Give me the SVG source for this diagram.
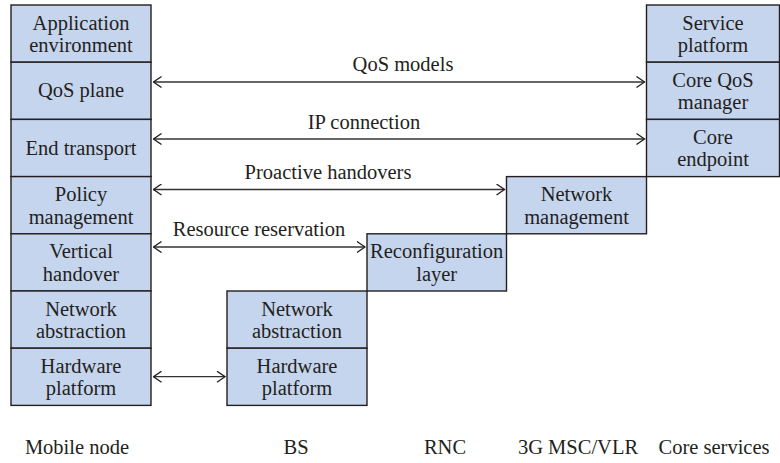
<svg xmlns="http://www.w3.org/2000/svg" width="780" height="463" viewBox="0 0 780 463">
  <defs>
    <!-- open chevron head used on both ends of every connector -->
    <marker id="head" viewBox="0 0 10 12" refX="9" refY="6" markerWidth="10" markerHeight="12" markerUnits="userSpaceOnUse" orient="auto-start-reverse">
      <path d="M1,0.5 L9,6 L1,11.5" fill="none" stroke="#231f20" stroke-width="1.3"/>
    </marker>
  </defs>
  <style>
    .box { fill: #c6d5ee; stroke: #231f20; stroke-width: 1.4; }
    text { font-family: 'Liberation Serif', 'Times New Roman', serif; font-size: 20.5px; fill: #231f20; text-anchor: middle; }
    .conn { stroke: #333333; stroke-width: 1.3; fill: none; marker-start: url(#head); marker-end: url(#head); }
  </style>
  <rect width="780" height="463" fill="#ffffff"/>

  <!-- Mobile node stack -->
  <g id="mn-app"><rect class="box" x="11" y="5" width="140" height="57.2"/><text x="81" y="29.5">Application</text><text x="81" y="52">environment</text></g>
  <g id="mn-qos"><rect class="box" x="11" y="62.2" width="140" height="57.2"/><text x="81" y="97">QoS plane</text></g>
  <g id="mn-transport"><rect class="box" x="11" y="119.4" width="140" height="57.2"/><text x="81" y="154.5">End transport</text></g>
  <g id="mn-policy"><rect class="box" x="11" y="176.6" width="140" height="57.2"/><text x="81" y="201.1">Policy</text><text x="81" y="223.6">management</text></g>
  <g id="mn-vertical"><rect class="box" x="11" y="233.8" width="140" height="57.2"/><text x="81" y="258.3">Vertical</text><text x="81" y="280.8">handover</text></g>
  <g id="mn-netabs"><rect class="box" x="11" y="291" width="140" height="57.2"/><text x="81" y="315.5">Network</text><text x="81" y="338">abstraction</text></g>
  <g id="mn-hw"><rect class="box" x="11" y="348.2" width="140" height="57.2"/><text x="81" y="372.7">Hardware</text><text x="81" y="395.2">platform</text></g>

  <!-- Base station stack -->
  <g id="bs-netabs"><rect class="box" x="227" y="291" width="140" height="57.2"/><text x="297" y="315.5">Network</text><text x="297" y="338">abstraction</text></g>
  <g id="bs-hw"><rect class="box" x="227" y="348.2" width="140" height="57.2"/><text x="297" y="372.7">Hardware</text><text x="297" y="395.2">platform</text></g>

  <!-- RNC -->
  <g id="rnc-reconf"><rect class="box" x="367" y="233.8" width="139.5" height="57.2"/><text x="436.7" y="258.3">Reconfiguration</text><text x="436.7" y="280.8">layer</text></g>

  <!-- 3G MSC/VLR -->
  <g id="msc-netmgmt"><rect class="box" x="506.5" y="176.6" width="140" height="57.2"/><text x="576.5" y="201.1">Network</text><text x="576.5" y="223.6">management</text></g>

  <!-- Core services stack -->
  <g id="core-service"><rect class="box" x="646.5" y="5" width="133" height="57.2"/><text x="713" y="29.5">Service</text><text x="713" y="52">platform</text></g>
  <g id="core-qos"><rect class="box" x="646.5" y="62.2" width="133" height="57.2"/><text x="713" y="86.7">Core QoS</text><text x="713" y="109.2">manager</text></g>
  <g id="core-endpoint"><rect class="box" x="646.5" y="119.4" width="133" height="57.2"/><text x="713" y="143.9">Core</text><text x="713" y="166.4">endpoint</text></g>

  <!-- Connectors -->
  <g id="connectors">
    <line class="conn" x1="153.5" y1="82" x2="644.5" y2="82"/>
    <line class="conn" x1="153.5" y1="139" x2="644.5" y2="139"/>
    <line class="conn" x1="153.5" y1="189.5" x2="504.5" y2="189.5"/>
    <line class="conn" x1="153.5" y1="247" x2="365" y2="247"/>
    <line class="conn" x1="153.5" y1="376.7" x2="225" y2="376.7"/>
    <text x="403" y="71">QoS models</text>
    <text x="364" y="129">IP connection</text>
    <text x="328" y="178.5">Proactive handovers</text>
    <text x="259" y="236">Resource reservation</text>
  </g>

  <!-- Column captions -->
  <g id="captions">
    <text x="77" y="454">Mobile node</text>
    <text x="296" y="454">BS</text>
    <text x="445" y="454">RNC</text>
    <text x="578" y="454">3G MSC/VLR</text>
    <text x="714" y="454">Core services</text>
  </g>
</svg>
